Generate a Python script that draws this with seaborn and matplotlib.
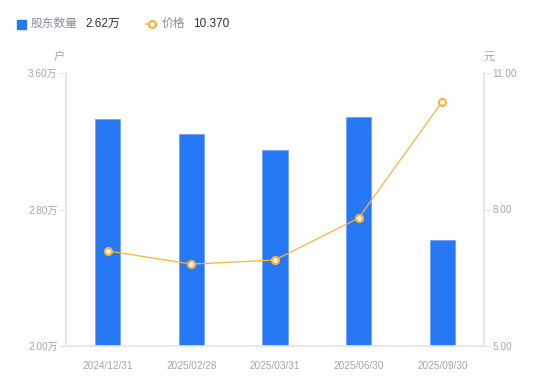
import numpy as np
import pandas as pd
import matplotlib
matplotlib.use('Agg')
import matplotlib.pyplot as plt
import seaborn as sns
from matplotlib.patches import Rectangle
from matplotlib.lines import Line2D
from matplotlib.ticker import FixedLocator

dates = ['2024/12/31', '2025/02/28', '2025/03/31', '2025/06/30', '2025/09/30']
holders = [3.33, 3.24, 3.15, 3.34, 2.62]   # 万户
price = [7.09, 6.80, 6.89, 7.81, 10.37]    # 元

left_ticks = [2.00, 2.80, 3.60]
right_ticks = [5.00, 8.00, 11.00]

BLUE = '#2778f5'
ORANGE = '#f9b33a'
TICK_GRAY = '#a3a5b3'
AXIS_GRAY = '#e3e3e8'

sns.set_theme(style='white')
plt.rcParams['font.family'] = ['Liberation Sans', 'Noto Sans CJK SC']

fig = plt.figure(figsize=(5.5, 3.81), dpi=100)
ax = fig.add_axes([66 / 550, 35 / 381, 418 / 550, 273 / 381])

df = pd.DataFrame({'date': dates, 'holders': holders})
sns.barplot(data=df, x='date', y='holders', color=BLUE, width=0.3,
            saturation=1, ax=ax, edgecolor='#6fa3f8', linewidth=0.6)

ax2 = ax.twinx()
sns.lineplot(x=np.arange(len(price)), y=price, ax=ax2, color=ORANGE,
             linewidth=0.9, marker='o', markersize=5, markerfacecolor='white',
             markeredgecolor=ORANGE, markeredgewidth=1.6)

ax.set_xlim(-0.5, len(dates) - 0.5)
ax.set_ylim(left_ticks[0], left_ticks[-1])
ax2.set_ylim(right_ticks[0], right_ticks[-1])

ax.yaxis.set_major_locator(FixedLocator(left_ticks))
ax.set_yticklabels([f'{v:.2f}万' for v in left_ticks])
ax2.yaxis.set_major_locator(FixedLocator(right_ticks))
ax2.set_yticklabels([f'{v:.2f}' for v in right_ticks])

ax.set_xlabel('')
ax.set_ylabel('')
ax2.set_ylabel('')

for a in (ax, ax2):
    for s in a.spines.values():
        s.set_visible(False)
    a.grid(False)

ax.spines['left'].set_visible(True)
ax.spines['left'].set_color(AXIS_GRAY)
ax.spines['bottom'].set_visible(True)
ax.spines['bottom'].set_color(AXIS_GRAY)
ax2.spines['right'].set_visible(True)
ax2.spines['right'].set_color(AXIS_GRAY)

ax.tick_params(axis='y', left=True, length=4, width=0.8, color=AXIS_GRAY,
               labelcolor=TICK_GRAY, labelsize=7.2, pad=2)
ax.tick_params(axis='x', bottom=False, labelcolor=TICK_GRAY, labelsize=7.2, pad=5)
ax2.tick_params(axis='y', right=True, length=4, width=0.8, color=AXIS_GRAY,
                labelcolor=TICK_GRAY, labelsize=7.2, pad=2)

# axis unit labels
fig.text(59 / 550, 1 - 57 / 381, '户', color=TICK_GRAY, fontsize=8,
         ha='center', va='center')
fig.text(489 / 550, 1 - 57 / 381, '元', color=TICK_GRAY, fontsize=8,
         ha='center', va='center')

# legend row
ly = 1 - 24 / 381
fig.add_artist(Rectangle((17 / 550, 1 - 29 / 381), 9 / 550, 9 / 381,
                         transform=fig.transFigure, color=BLUE))
fig.text(31 / 550, ly, '股东数量', color='#8a8d9a', fontsize=8.5, va='center')
fig.text(85 / 550, ly, '2.62万', color='#333333', fontsize=8.5, va='center')
fig.add_artist(Line2D([146 / 550, 157 / 550], [ly, ly], transform=fig.transFigure,
                      color=ORANGE, linewidth=1.2, marker='o', markevery=[0],
                      markersize=0))
fig.add_artist(Line2D([151.5 / 550], [ly], transform=fig.transFigure,
                      color=ORANGE, marker='o', markersize=5,
                      markerfacecolor='white', markeredgewidth=1.6))
fig.text(162 / 550, ly, '价格', color='#8a8d9a', fontsize=8.5, va='center')
fig.text(193 / 550, ly, '10.370', color='#333333', fontsize=8.5, va='center')

fig.savefig('out.png', dpi=100)
